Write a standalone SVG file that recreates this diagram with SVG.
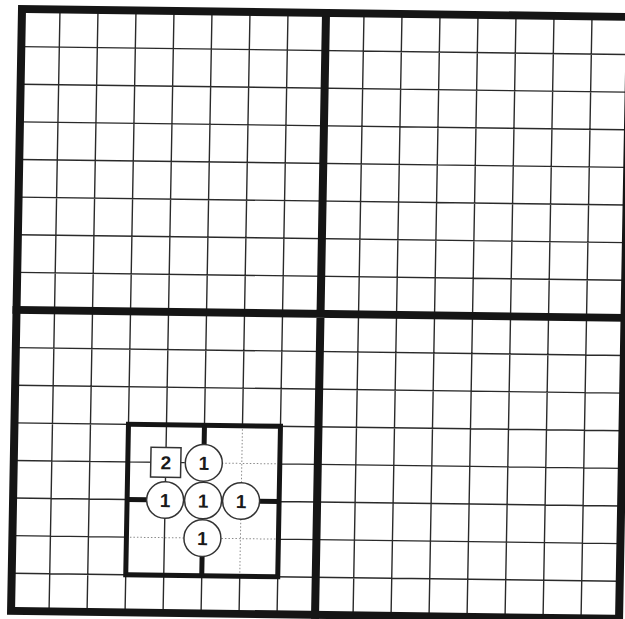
<svg xmlns="http://www.w3.org/2000/svg" width="625" height="619" viewBox="0 0 625 619">
<style>
.thin{stroke:#2a2a2a;stroke-width:1.4;fill:none}
.dot{stroke:#8a8a8a;stroke-width:1;fill:none;stroke-dasharray:1.5 2}
.thick{stroke:#151515;stroke-width:8;fill:none;stroke-linecap:square}
.box{stroke:#151515;stroke-width:5;fill:none;stroke-linecap:square}
.seg{stroke:#151515;stroke-width:5;fill:none}
.clue circle{fill:#fff;stroke:#333;stroke-width:1.5}
.clue rect{fill:#fff;stroke:#333;stroke-width:1.5}
.clue text{font-family:"Liberation Sans",Arial,sans-serif;font-size:19px;font-weight:bold;fill:#1a1a1a;text-anchor:middle}
</style>
<rect width="625" height="619" fill="#fff"/>
<g transform="matrix(1 0.013 -0.018 0.99 22 9)">
<g id="grid">
<path class="thin" d="M38 0V608M76 0V608M114 0V608M152 0V608M190 0V418M190 570V608M228 0V418M228 570V608M266 0V608M342 0V608M380 0V608M418 0V608M456 0V608M494 0V608M532 0V608M570 0V608
M0 38H608M0 76H608M0 114H608M0 152H608M0 190H608M0 228H608M0 266H608M0 342H608M0 380H608M0 418H608M0 456H171M266 456H608M0 494H114M266 494H608M0 532H114M266 532H608M0 570H608"/>
<path class="dot" d="M228 418V570M208 456H266M114 532H171M209 532H266"/>
<path class="thick" d="M304 0V608M0 304H608"/>
<rect class="thick" x="0" y="0" width="608" height="608"/>
<rect class="box" x="114" y="418" width="152" height="152"/>
<path class="seg" d="M190 418V438M190 550V570M114 494H134M246 494H266"/>
</g>
<g id="clue-sq" class="clue"><rect x="137" y="441" width="30" height="30"/><text x="152" y="463">2</text></g>
<g id="clue-top" class="clue"><circle cx="190" cy="456" r="18.5"/><text x="190" y="463">1</text></g>
<g id="clue-left" class="clue"><circle cx="152" cy="494" r="18.5"/><text x="152" y="501">1</text></g>
<g id="clue-center" class="clue"><circle cx="190" cy="494" r="18.5"/><text x="190" y="501">1</text></g>
<g id="clue-right" class="clue"><circle cx="228" cy="494" r="18.5"/><text x="228" y="501">1</text></g>
<g id="clue-bottom" class="clue"><circle cx="190" cy="532" r="18.5"/><text x="190" y="539">1</text></g>
</g>
</svg>
